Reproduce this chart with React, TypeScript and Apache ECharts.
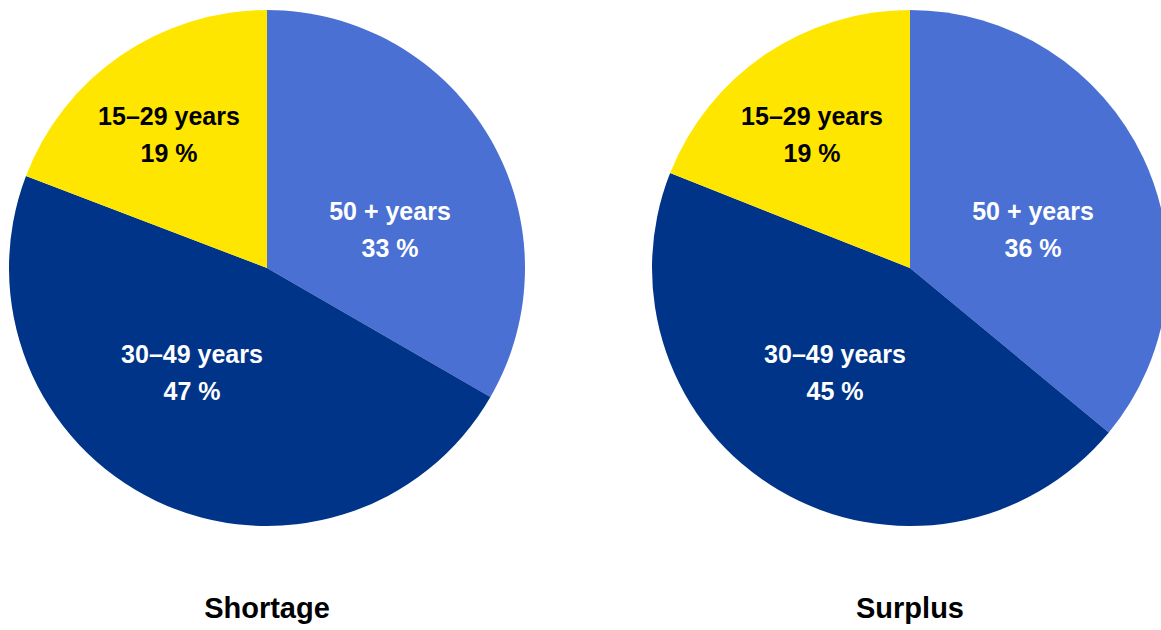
import React, { useEffect, useRef } from "react";
import * as echarts from "echarts";

const categories = ["50 + years", "30–49 years", "15–29 years"];
const shortageValues = [33, 47, 19];
const surplusValues = [36, 45, 19];
const chartTitles = ["Shortage", "Surplus"];
const sliceColors = ["#4A70D3", "#003489", "#FFE600"];
const labelColors = ["#FFFFFF", "#FFFFFF", "#000000"];

const W = 1161;
const H = 630;
const pieCenters: [number, number][] = [
  [267, 268],
  [910, 268],
];
const pieRadius = 258;
// label block offsets from pie centre (layout only)
const labelOffsets: [number, number][] = [
  [123, -39],
  [-75, 104],
  [-98, -134],
];
const FONT = "'Liberation Sans', Arial, Helvetica, sans-serif";

export default function App() {
  const ref = useRef<HTMLDivElement>(null);
  useEffect(() => {
    document.body.style.margin = "0";
    if (!ref.current) return;
    const chart = echarts.init(ref.current, undefined, { renderer: "svg" });
    const seriesValues = [shortageValues, surplusValues];
    const series = seriesValues.map((vals, si) => ({
      type: "pie",
      center: pieCenters[si],
      radius: pieRadius,
      startAngle: 90,
      clockwise: true,
      silent: true,
      emphasis: { disabled: true },
      itemStyle: { borderWidth: 0 },
      label: {
        show: true,
        position: "inside",
        formatter: "{b}\n{c} %",
        fontFamily: FONT,
        fontWeight: "bold",
        fontSize: 25,
        lineHeight: 37,
        align: "center",
      },
      labelLine: { show: false },
      labelLayout: (params: any) => {
        const c = pieCenters[si];
        const o = labelOffsets[params.dataIndex];
        return {
          x: c[0] + o[0],
          y: c[1] + o[1],
          align: "center",
          verticalAlign: "middle",
        };
      },
      data: categories.map((name, i) => ({
        name,
        value: vals[i],
        itemStyle: { color: sliceColors[i] },
        label: { color: labelColors[i] },
      })),
    }));
    chart.setOption({
      animation: false,
      backgroundColor: "#FFFFFF",
      series,
      graphic: chartTitles.map((t, i) => ({
        type: "text",
        x: pieCenters[i][0],
        y: 608,
        style: {
          text: t,
          fill: "#000000",
          font: `bold 29px ${FONT}`,
          textAlign: "center",
          textVerticalAlign: "middle",
        },
      })),
    });
    return () => chart.dispose();
  }, []);
  return <div ref={ref} style={{ width: W, height: H }} />;
}
